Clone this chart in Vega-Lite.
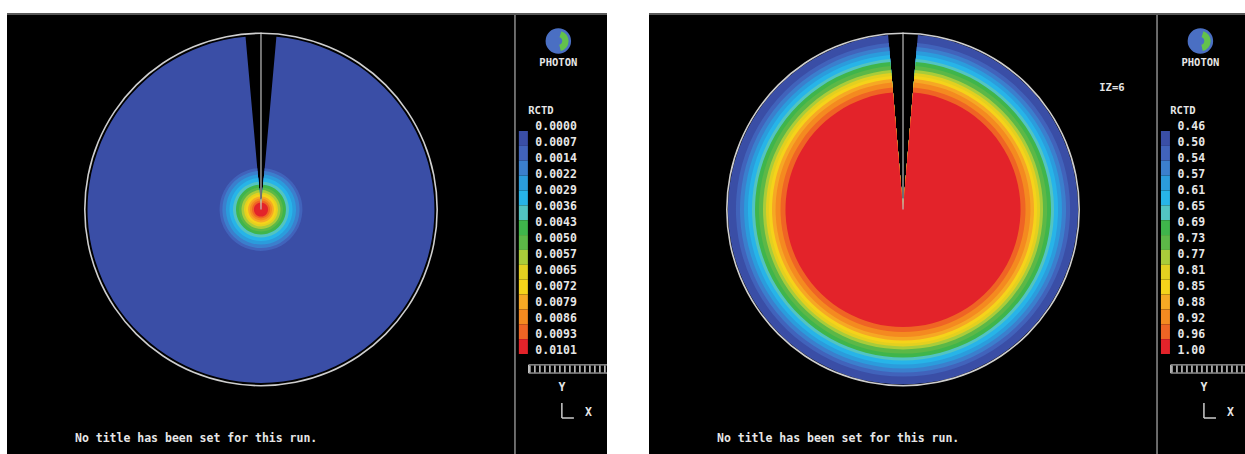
{
  "$schema": "https://vega.github.io/schema/vega-lite/v6.json",
  "background": "white",
  "padding": {"left": 7, "top": 12, "right": 0, "bottom": 0},
  "spacing": 42,
  "config": {
    "view": {"fill": "black", "stroke": null},
    "axis": {"disable": true},
    "legend": {"disable": true},
    "text": {"font": "DejaVu Sans Mono", "fontWeight": "bold", "fontSize": 11.5, "color": "#e6e6e6"}
  },
  "datasets": {
    "left": [
      {"k": 1, "level": "0.0000", "r": 0.980},
      {"k": 2, "level": "0.0007", "r": 0.234},
      {"k": 3, "level": "0.0014", "r": 0.218},
      {"k": 4, "level": "0.0022", "r": 0.198},
      {"k": 5, "level": "0.0029", "r": 0.178},
      {"k": 6, "level": "0.0036", "r": 0.158},
      {"k": 7, "level": "0.0043", "r": 0.141},
      {"k": 8, "level": "0.0050", "r": 0.124},
      {"k": 9, "level": "0.0057", "r": 0.110},
      {"k": 10, "level": "0.0065", "r": 0.096},
      {"k": 11, "level": "0.0072", "r": 0.085},
      {"k": 12, "level": "0.0079", "r": 0.073},
      {"k": 13, "level": "0.0086", "r": 0.062},
      {"k": 14, "level": "0.0093", "r": 0.051},
      {"k": 15, "level": "0.0101", "r": 0.040}
    ],
    "right": [
      {"k": 1, "level": "0.46", "r": 0.989},
      {"k": 2, "level": "0.50", "r": 0.944},
      {"k": 3, "level": "0.54", "r": 0.921},
      {"k": 4, "level": "0.57", "r": 0.898},
      {"k": 5, "level": "0.61", "r": 0.876},
      {"k": 6, "level": "0.65", "r": 0.853},
      {"k": 7, "level": "0.69", "r": 0.836},
      {"k": 8, "level": "0.73", "r": 0.814},
      {"k": 9, "level": "0.77", "r": 0.791},
      {"k": 10, "level": "0.81", "r": 0.774},
      {"k": 11, "level": "0.85", "r": 0.757},
      {"k": 12, "level": "0.88", "r": 0.740},
      {"k": 13, "level": "0.92", "r": 0.720},
      {"k": 14, "level": "0.96", "r": 0.692},
      {"k": 15, "level": "1.00", "r": 0.664}
    ],
    "one": [{}]
  },
  "hconcat": [
    {
      "width": 600,
      "height": 442,
      "resolve": {"scale": {"y": "independent"}},
      "layer": [
        {
          "layer": [
            {
              "data": {"name": "left"},
              "mark": {"type": "arc", "theta": 0.089, "theta2": 6.194},
              "encoding": {
                "x": {"datum": 0, "type": "quantitative", "scale": {"type": "linear", "domain": [-1.435, 1.955], "nice": false, "zero": false}},
                "y": {"datum": 0, "type": "quantitative", "scale": {"type": "linear", "domain": [-1.387, 1.11], "nice": false, "zero": false}},
                "radius": {"field": "r", "type": "quantitative", "stack": null, "scale": {"type": "linear", "domain": [0, 1], "range": [0, 177], "zero": true, "nice": false}},
                "color": {"field": "k", "type": "ordinal", "scale": {"domain": [1,2,3,4,5,6,7,8,9,10,11,12,13,14,15], "range": ["#3a4ea6","#4163bb","#3b7fcd","#2b9cdc","#27b4e8","#52c4c2","#3fb54b","#5cb847","#a9cc3a","#e3d020","#f5d31a","#f6a824","#f48a20","#ef6424","#e3232a"]}},
                "order": {"field": "r", "type": "quantitative", "sort": "descending"}
              }
            },
            {
              "data": {"name": "one"},
              "mark": {"type": "rule", "color": "#bdbdbd", "strokeWidth": 1.2},
              "encoding": {
                "x": {"datum": 0, "type": "quantitative"},
                "y": {"datum": 0, "type": "quantitative"},
                "y2": {"datum": 1.0}
              }
            },
            {
              "data": {"name": "one"},
              "mark": {"type": "arc", "fill": "#cfcfcf"},
              "encoding": {
                "x": {"datum": 0, "type": "quantitative"},
                "y": {"datum": 0, "type": "quantitative"},
                "radius": {"datum": 1.0, "type": "quantitative"},
                "radius2": {"datum": 0.991}
              }
            },
            {
              "data": {"name": "one"},
              "mark": {"type": "arc", "fill": "#4a6fc3"},
              "encoding": {
                "x": {"datum": 1.68, "type": "quantitative"},
                "y": {"datum": 0.952, "type": "quantitative"},
                "radius": {"datum": 0.072, "type": "quantitative"}
              }
            },
            {
              "data": {"name": "one"},
              "mark": {"type": "arc", "fill": "#63c24c", "theta": 0.3, "theta2": 2.9},
              "encoding": {
                "x": {"datum": 1.68, "type": "quantitative"},
                "y": {"datum": 0.952, "type": "quantitative"},
                "radius": {"datum": 0.058, "type": "quantitative"},
                "radius2": {"datum": 0.022}
              }
            },
            {
              "data": {"name": "one"},
              "mark": {"type": "text", "align": "center", "baseline": "middle", "fontSize": 10.5},
              "encoding": {
                "x": {"datum": 1.68, "type": "quantitative"},
                "y": {"datum": 0.828, "type": "quantitative"},
                "text": {"value": "PHOTON"}
              }
            },
            {
              "data": {"name": "one"},
              "mark": {"type": "text", "align": "left", "baseline": "middle", "fontSize": 10.5},
              "encoding": {
                "x": {"datum": 1.51, "type": "quantitative"},
                "y": {"datum": 0.556, "type": "quantitative"},
                "text": {"value": "RCTD"}
              }
            },
            {
              "data": {"name": "one"},
              "mark": {"type": "text", "align": "left", "baseline": "middle"},
              "encoding": {
                "x": {"datum": -1.051, "type": "quantitative"},
                "y": {"datum": -1.297, "type": "quantitative"},
                "text": {"value": "No title has been set for this run."}
              }
            },
            {
              "data": {"name": "one"},
              "mark": {"type": "text", "align": "center", "baseline": "middle"},
              "encoding": {
                "x": {"datum": 1.70, "type": "quantitative"},
                "y": {"datum": -1.008, "type": "quantitative"},
                "text": {"value": "Y"}
              }
            },
            {
              "data": {"name": "one"},
              "mark": {"type": "text", "align": "center", "baseline": "middle"},
              "encoding": {
                "x": {"datum": 1.85, "type": "quantitative"},
                "y": {"datum": -1.15, "type": "quantitative"},
                "text": {"value": "X"}
              }
            },
            {
              "data": {"name": "one"},
              "mark": {"type": "rule", "color": "#cccccc", "strokeWidth": 1.5},
              "encoding": {
                "x": {"datum": 1.70, "type": "quantitative"},
                "y": {"datum": -1.093, "type": "quantitative"},
                "y2": {"datum": -1.178}
              }
            },
            {
              "data": {"name": "one"},
              "mark": {"type": "rule", "color": "#cccccc", "strokeWidth": 1.5},
              "encoding": {
                "x": {"datum": 1.70, "type": "quantitative"},
                "x2": {"datum": 1.768},
                "y": {"datum": -1.178, "type": "quantitative"}
              }
            },
            {
              "data": {"name": "one"},
              "mark": {"type": "rect", "fillOpacity": 0, "stroke": "#cfcfcf", "strokeWidth": 1, "clip": true},
              "encoding": {
                "x": {"datum": 1.512, "type": "quantitative"},
                "x2": {"datum": 1.96},
                "y": {"datum": -0.878, "type": "quantitative"},
                "y2": {"datum": -0.924}
              }
            },
            {
              "data": {"name": "one"},
              "mark": {"type": "rule", "color": "#cfcfcf", "strokeWidth": 7, "strokeDash": [1.5, 3.5], "clip": true},
              "encoding": {
                "x": {"datum": 1.515, "type": "quantitative"},
                "x2": {"datum": 1.955},
                "y": {"datum": -0.901, "type": "quantitative"}
              }
            },
            {
              "data": {"name": "one"},
              "mark": {"type": "rule", "color": "#8c8c8c", "strokeWidth": 1.5},
              "encoding": {
                "x": {"datum": 1.435, "type": "quantitative"}
              }
            },
            {
              "data": {"name": "one"},
              "mark": {"type": "rule", "color": "#5a5a5a", "strokeWidth": 2, "clip": true},
              "encoding": {
                "y": {"datum": 1.104, "type": "quantitative"}
              }
            }
          ]
        },
        {
          "data": {"name": "left"},
          "mark": {"type": "rect"},
          "encoding": {
            "x": {"datum": 1.457, "type": "quantitative", "scale": {"type": "linear", "domain": [-1.435, 1.955], "nice": false, "zero": false}},
            "x2": {"datum": 1.508},
            "y": {"field": "k", "type": "ordinal", "scale": {"type": "band", "domain": [1,2,3,4,5,6,7,8,9,10,11,12,13,14,15], "range": [118, 341], "paddingInner": 0, "paddingOuter": 0}},
            "color": {"field": "k", "type": "ordinal", "scale": {"domain": [1,2,3,4,5,6,7,8,9,10,11,12,13,14,15], "range": ["#3a4ea6","#4163bb","#3b7fcd","#2b9cdc","#27b4e8","#52c4c2","#3fb54b","#5cb847","#a9cc3a","#e3d020","#f5d31a","#f6a824","#f48a20","#ef6424","#e3232a"]}}
          }
        },
        {
          "data": {"name": "left"},
          "mark": {"type": "text", "align": "left", "baseline": "middle"},
          "encoding": {
            "x": {"datum": 1.55, "type": "quantitative", "scale": {"type": "linear", "domain": [-1.435, 1.955], "nice": false, "zero": false}},
            "y": {"field": "k", "type": "ordinal", "scale": {"type": "point", "domain": [1,2,3,4,5,6,7,8,9,10,11,12,13,14,15], "range": [114, 338], "padding": 0}},
            "text": {"field": "level"}
          }
        }
      ]
    },
    {
      "width": 596,
      "height": 442,
      "resolve": {"scale": {"y": "independent"}},
      "layer": [
        {
          "layer": [
            {
              "data": {"name": "right"},
              "mark": {"type": "arc", "theta": 0.085, "theta2": 6.198},
              "encoding": {
                "x": {"datum": 0, "type": "quantitative", "scale": {"type": "linear", "domain": [-1.435, 1.932], "nice": false, "zero": false}},
                "y": {"datum": 0, "type": "quantitative", "scale": {"type": "linear", "domain": [-1.387, 1.11], "nice": false, "zero": false}},
                "radius": {"field": "r", "type": "quantitative", "stack": null, "scale": {"type": "linear", "domain": [0, 1], "range": [0, 177], "zero": true, "nice": false}},
                "color": {"field": "k", "type": "ordinal", "scale": {"domain": [1,2,3,4,5,6,7,8,9,10,11,12,13,14,15], "range": ["#3a4ea6","#4163bb","#3b7fcd","#2b9cdc","#27b4e8","#52c4c2","#3fb54b","#5cb847","#a9cc3a","#e3d020","#f5d31a","#f6a824","#f48a20","#ef6424","#e3232a"]}},
                "order": {"field": "r", "type": "quantitative", "sort": "descending"}
              }
            },
            {
              "data": {"name": "one"},
              "mark": {"type": "rule", "color": "#bdbdbd", "strokeWidth": 1.2},
              "encoding": {
                "x": {"datum": 0, "type": "quantitative"},
                "y": {"datum": 0, "type": "quantitative"},
                "y2": {"datum": 1.0}
              }
            },
            {
              "data": {"name": "one"},
              "mark": {"type": "arc", "fill": "#cfcfcf"},
              "encoding": {
                "x": {"datum": 0, "type": "quantitative"},
                "y": {"datum": 0, "type": "quantitative"},
                "radius": {"datum": 1.0, "type": "quantitative"},
                "radius2": {"datum": 0.991}
              }
            },
            {
              "data": {"name": "one"},
              "mark": {"type": "arc", "fill": "#4a6fc3"},
              "encoding": {
                "x": {"datum": 1.68, "type": "quantitative"},
                "y": {"datum": 0.952, "type": "quantitative"},
                "radius": {"datum": 0.072, "type": "quantitative"}
              }
            },
            {
              "data": {"name": "one"},
              "mark": {"type": "arc", "fill": "#63c24c", "theta": 0.3, "theta2": 2.9},
              "encoding": {
                "x": {"datum": 1.68, "type": "quantitative"},
                "y": {"datum": 0.952, "type": "quantitative"},
                "radius": {"datum": 0.058, "type": "quantitative"},
                "radius2": {"datum": 0.022}
              }
            },
            {
              "data": {"name": "one"},
              "mark": {"type": "text", "align": "center", "baseline": "middle", "fontSize": 10.5},
              "encoding": {
                "x": {"datum": 1.68, "type": "quantitative"},
                "y": {"datum": 0.828, "type": "quantitative"},
                "text": {"value": "PHOTON"}
              }
            },
            {
              "data": {"name": "one"},
              "mark": {"type": "text", "align": "left", "baseline": "middle", "fontSize": 10.5},
              "encoding": {
                "x": {"datum": 1.51, "type": "quantitative"},
                "y": {"datum": 0.556, "type": "quantitative"},
                "text": {"value": "RCTD"}
              }
            },
            {
              "data": {"name": "one"},
              "mark": {"type": "text", "align": "center", "baseline": "middle", "fontSize": 10.5},
              "encoding": {
                "x": {"datum": 1.18, "type": "quantitative"},
                "y": {"datum": 0.687, "type": "quantitative"},
                "text": {"value": "IZ=6"}
              }
            },
            {
              "data": {"name": "one"},
              "mark": {"type": "text", "align": "left", "baseline": "middle"},
              "encoding": {
                "x": {"datum": -1.051, "type": "quantitative"},
                "y": {"datum": -1.297, "type": "quantitative"},
                "text": {"value": "No title has been set for this run."}
              }
            },
            {
              "data": {"name": "one"},
              "mark": {"type": "text", "align": "center", "baseline": "middle"},
              "encoding": {
                "x": {"datum": 1.70, "type": "quantitative"},
                "y": {"datum": -1.008, "type": "quantitative"},
                "text": {"value": "Y"}
              }
            },
            {
              "data": {"name": "one"},
              "mark": {"type": "text", "align": "center", "baseline": "middle"},
              "encoding": {
                "x": {"datum": 1.85, "type": "quantitative"},
                "y": {"datum": -1.15, "type": "quantitative"},
                "text": {"value": "X"}
              }
            },
            {
              "data": {"name": "one"},
              "mark": {"type": "rule", "color": "#cccccc", "strokeWidth": 1.5},
              "encoding": {
                "x": {"datum": 1.70, "type": "quantitative"},
                "y": {"datum": -1.093, "type": "quantitative"},
                "y2": {"datum": -1.178}
              }
            },
            {
              "data": {"name": "one"},
              "mark": {"type": "rule", "color": "#cccccc", "strokeWidth": 1.5},
              "encoding": {
                "x": {"datum": 1.70, "type": "quantitative"},
                "x2": {"datum": 1.768},
                "y": {"datum": -1.178, "type": "quantitative"}
              }
            },
            {
              "data": {"name": "one"},
              "mark": {"type": "rect", "fillOpacity": 0, "stroke": "#cfcfcf", "strokeWidth": 1, "clip": true},
              "encoding": {
                "x": {"datum": 1.512, "type": "quantitative"},
                "x2": {"datum": 1.94},
                "y": {"datum": -0.878, "type": "quantitative"},
                "y2": {"datum": -0.924}
              }
            },
            {
              "data": {"name": "one"},
              "mark": {"type": "rule", "color": "#cfcfcf", "strokeWidth": 7, "strokeDash": [1.5, 3.5], "clip": true},
              "encoding": {
                "x": {"datum": 1.515, "type": "quantitative"},
                "x2": {"datum": 1.932},
                "y": {"datum": -0.901, "type": "quantitative"}
              }
            },
            {
              "data": {"name": "one"},
              "mark": {"type": "rule", "color": "#8c8c8c", "strokeWidth": 1.5},
              "encoding": {
                "x": {"datum": 1.435, "type": "quantitative"}
              }
            },
            {
              "data": {"name": "one"},
              "mark": {"type": "rule", "color": "#5a5a5a", "strokeWidth": 2, "clip": true},
              "encoding": {
                "y": {"datum": 1.104, "type": "quantitative"}
              }
            }
          ]
        },
        {
          "data": {"name": "right"},
          "mark": {"type": "rect"},
          "encoding": {
            "x": {"datum": 1.457, "type": "quantitative", "scale": {"type": "linear", "domain": [-1.435, 1.932], "nice": false, "zero": false}},
            "x2": {"datum": 1.508},
            "y": {"field": "k", "type": "ordinal", "scale": {"type": "band", "domain": [1,2,3,4,5,6,7,8,9,10,11,12,13,14,15], "range": [118, 341], "paddingInner": 0, "paddingOuter": 0}},
            "color": {"field": "k", "type": "ordinal", "scale": {"domain": [1,2,3,4,5,6,7,8,9,10,11,12,13,14,15], "range": ["#3a4ea6","#4163bb","#3b7fcd","#2b9cdc","#27b4e8","#52c4c2","#3fb54b","#5cb847","#a9cc3a","#e3d020","#f5d31a","#f6a824","#f48a20","#ef6424","#e3232a"]}}
          }
        },
        {
          "data": {"name": "right"},
          "mark": {"type": "text", "align": "left", "baseline": "middle"},
          "encoding": {
            "x": {"datum": 1.55, "type": "quantitative", "scale": {"type": "linear", "domain": [-1.435, 1.932], "nice": false, "zero": false}},
            "y": {"field": "k", "type": "ordinal", "scale": {"type": "point", "domain": [1,2,3,4,5,6,7,8,9,10,11,12,13,14,15], "range": [114, 338], "padding": 0}},
            "text": {"field": "level"}
          }
        }
      ]
    }
  ]
}
